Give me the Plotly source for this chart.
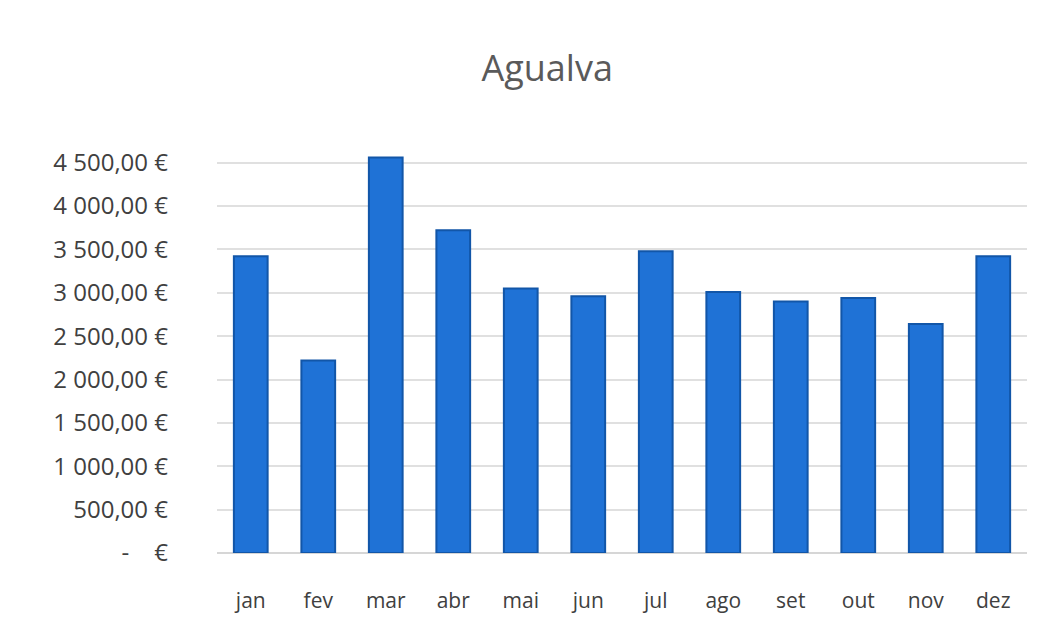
import plotly.graph_objects as go

months = ["jan", "fev", "mar", "abr", "mai", "jun", "jul", "ago", "set", "out", "nov", "dez"]
values = [3420, 2220, 4560, 3720, 3050, 2960, 3480, 3010, 2900, 2940, 2640, 3420]
tick_vals = [0, 500, 1000, 1500, 2000, 2500, 3000, 3500, 4000, 4500]
tick_text = ["-    €", "500,00 €", "1 000,00 €", "1 500,00 €", "2 000,00 €", "2 500,00 €",
             "3 000,00 €", "3 500,00 €", "4 000,00 €", "4 500,00 €"]

fig = go.Figure()
fig.add_trace(go.Bar(
    x=months, y=values,
    marker=dict(color="#1f72d6", line=dict(color="#1256a8", width=2)),
    hovertemplate="%{x}: %{y:,.2f} €<extra></extra>",
))

fig.update_layout(
    width=1047, height=633,
    paper_bgcolor="white", plot_bgcolor="white",
    title=dict(text="Agualva", x=0.515, xanchor="center", y=0.905, yanchor="middle",
               font=dict(family="Open Sans", size=36, color="#5a5a5a")),
    margin=dict(l=209, r=28, t=133, b=88),
    bargap=0.5,
    showlegend=False,
    font=dict(family="Open Sans", color="#404040"),
)
fig.update_xaxes(
    showgrid=False, showline=False, zeroline=False,
    tickfont=dict(family="Open Sans", size=21, color="#404040"),
    ticklabelstandoff=33,
)
fig.update_yaxes(
    range=[0, 4750],
    tickvals=tick_vals, ticktext=tick_text,
    showgrid=True, gridcolor="#e0e0e0", gridwidth=1.5,
    zeroline=True, zerolinecolor="#d6d6d6", zerolinewidth=1.5,
    showline=False,
    tickfont=dict(family="Open Sans", size=24, color="#404040"),
    ticklabelstandoff=48,
)

fig.write_html("out.html")
